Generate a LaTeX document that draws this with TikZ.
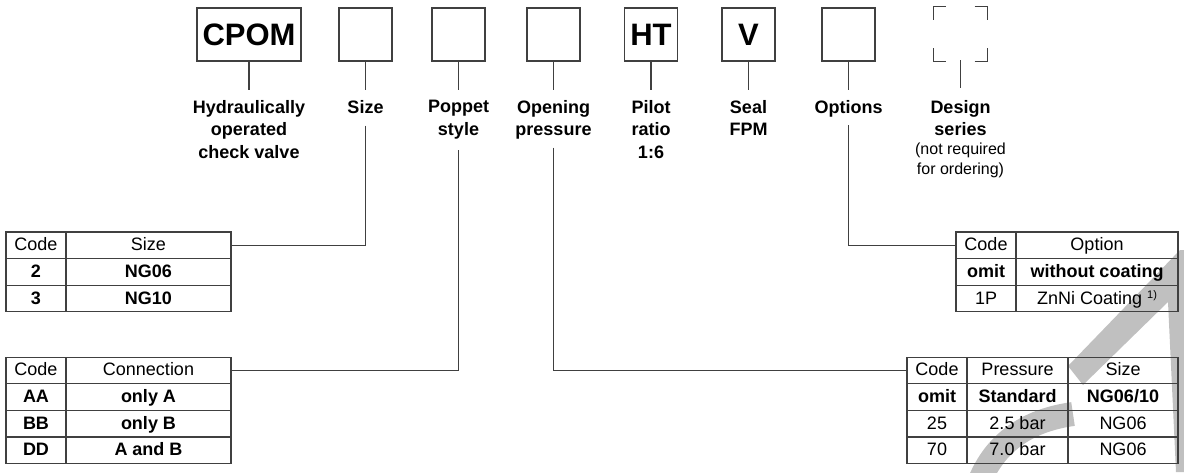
\documentclass[tikz,border=0pt]{standalone}
\usepackage{fontspec}
\setmainfont{Liberation Sans}
\usetikzlibrary{positioning}

\definecolor{linegray}{RGB}{64,64,64}
\definecolor{wmgray}{RGB}{192,192,192}

\tikzset{
  codebox/.style={draw=linegray, line width=1.3pt, minimum size=53pt, inner sep=0pt,
    font=\fontsize{31}{31}\selectfont\bfseries},
  fieldname/.style={align=center, inner sep=0pt, anchor=north,
    font=\fontsize{18}{22.5}\selectfont\bfseries},
  fieldnote/.style={align=center, inner sep=0pt, font=\fontsize{16}{20}\selectfont},
  link/.style={draw=linegray, line width=1.2pt},
  cell/.style={draw=linegray, line width=1.2pt, inner sep=0pt, minimum height=26.6pt,
    text height=12pt, text depth=1pt, font=\fontsize{18}{18}\selectfont},
  bcell/.style={cell, font=\fontsize{18}{18}\selectfont\bfseries},
}

\begin{document}
\begin{tikzpicture}[x=1pt,y=-1pt]
\useasboundingbox (0,0) rectangle (1184,472);

% watermark
\fill[wmgray] (1068,366) -- (1180,250) -- (1184,250) -- (1184,472) -- (1176,472) -- (1168,302) -- (1083,385) -- cycle;
\draw[wmgray, line width=24pt] (981,478) .. controls (998,440) and (1030,420) .. (1073,414);

% type code boxes
\node[codebox, minimum width=104pt] (bcpom) at (249,34.5) {CPOM};
\node[codebox] (bsize) at (365.5,34.5) {};
\node[codebox] (bpop) at (458.5,34.5) {};
\node[codebox] (bopen) at (553.5,34.5) {};
\node[codebox] (bpilot) at (651,34.5) {HT};
\node[codebox] (bseal) at (748.5,34.5) {V};
\node[codebox] (bopt) at (848.5,34.5) {};
\node[codebox, draw=none] (bdesign) at (960.5,34) {};

\draw[link] ([yshift=-13pt]bdesign.north west) -- (bdesign.north west) -- ++(13pt,0pt);
\draw[link] ([xshift=-13pt]bdesign.north east) -- (bdesign.north east) -- ++(0pt,-13pt);
\draw[link] ([yshift=13pt]bdesign.south west) -- (bdesign.south west) -- ++(13pt,0pt);
\draw[link] ([xshift=-13pt]bdesign.south east) -- (bdesign.south east) -- ++(0pt,13pt);

% field names
\node[fieldname] (lcpom) at (249,100) {Hydraulically\\operated\\check valve};
\node[fieldname] (lsize) at (365.5,100) {Size};
\node[fieldname] (lpop) at (458.5,100) {Poppet\\style};
\node[fieldname] (lopen) at (553.5,100) {Opening\\pressure};
\node[fieldname] (lpilot) at (651,100) {Pilot\\ratio\\1:6};
\node[fieldname] (lseal) at (748.5,100) {Seal\\FPM};
\node[fieldname] (lopt) at (848.5,100) {Options};
\node[fieldname] (ldesign) at (960.5,100) {Design\\series};
\node[fieldnote, below=6.5pt of ldesign] (ndesign) {(not required\\for ordering)};

\draw[link, shorten >=10pt] (bcpom) -- (lcpom);
\draw[link, shorten >=10pt] (bsize) -- (lsize);
\draw[link, shorten >=10pt] (bpop) -- (lpop);
\draw[link, shorten >=10pt] (bopen) -- (lopen);
\draw[link, shorten >=10pt] (bpilot) -- (lpilot);
\draw[link, shorten >=10pt] (bseal) -- (lseal);
\draw[link, shorten >=10pt] (bopt) -- (lopt);
\draw[link, shorten <=-1pt, shorten >=12pt] (bdesign) -- (ldesign);

% size table
\node[cell, minimum width=60pt] (tsize-h1) at (36,245.3) {Code};
\node[cell, minimum width=165pt] (tsize-h2) at (148.5,245.3) {Size};
\node[bcell, minimum width=60pt] (tsize-11) at (36,271.9) {2};
\node[bcell, minimum width=165pt] (tsize-12) at (148.5,271.9) {NG06};
\node[bcell, minimum width=60pt] (tsize-21) at (36,298.5) {3};
\node[bcell, minimum width=165pt] (tsize-22) at (148.5,298.5) {NG10};

% connection table
\node[cell, minimum width=60pt] (tconn-h1) at (36,370.4) {Code};
\node[cell, minimum width=165pt] (tconn-h2) at (148.5,370.4) {Connection};
\node[bcell, minimum width=60pt] (tconn-11) at (36,397.0) {AA};
\node[bcell, minimum width=165pt] (tconn-12) at (148.5,397.0) {only A};
\node[bcell, minimum width=60pt] (tconn-21) at (36,423.6) {BB};
\node[bcell, minimum width=165pt] (tconn-22) at (148.5,423.6) {only B};
\node[bcell, minimum width=60pt] (tconn-31) at (36,450.2) {DD};
\node[bcell, minimum width=165pt] (tconn-32) at (148.5,450.2) {A and B};

% option table
\node[cell, minimum width=60pt] (topt-h1) at (986,245.3) {Code};
\node[cell, minimum width=162pt] (topt-h2) at (1097,245.3) {Option};
\node[bcell, minimum width=60pt] (topt-11) at (986,271.9) {omit};
\node[bcell, minimum width=162pt] (topt-12) at (1097,271.9) {without coating};
\node[cell, minimum width=60pt] (topt-21) at (986,298.5) {1P};
\node[cell, minimum width=162pt] (topt-22) at (1097,298.5) {ZnNi Coating {\fontsize{11}{11}\selectfont\raisebox{6pt}{1)}}};

% pressure table
\node[cell, minimum width=60pt] (tpres-h1) at (937,370.4) {Code};
\node[cell, minimum width=101pt] (tpres-h2) at (1017.5,370.4) {Pressure};
\node[cell, minimum width=110pt] (tpres-h3) at (1123,370.4) {Size};
\node[bcell, minimum width=60pt] (tpres-11) at (937,397.0) {omit};
\node[bcell, minimum width=101pt] (tpres-12) at (1017.5,397.0) {Standard};
\node[bcell, minimum width=110pt] (tpres-13) at (1123,397.0) {NG06/10};
\node[cell, minimum width=60pt] (tpres-21) at (937,423.6) {25};
\node[cell, minimum width=101pt] (tpres-22) at (1017.5,423.6) {2.5 bar};
\node[cell, minimum width=110pt] (tpres-23) at (1123,423.6) {NG06};
\node[cell, minimum width=60pt] (tpres-31) at (937,450.2) {70};
\node[cell, minimum width=101pt] (tpres-32) at (1017.5,450.2) {7.0 bar};
\node[cell, minimum width=110pt] (tpres-33) at (1123,450.2) {NG06};

% leaders to the tables
\draw[link, shorten <=12pt] (lsize.south) |- (tsize-h2.east);
\draw[link, shorten <=11pt] (lpop.south) |- (tconn-h2.east);
\draw[link, shorten <=8pt] (lopen.south) |- (tpres-h1.west);
\draw[link, shorten <=8pt] (lopt.south) |- (topt-h1.west);

\end{tikzpicture}
\end{document}
